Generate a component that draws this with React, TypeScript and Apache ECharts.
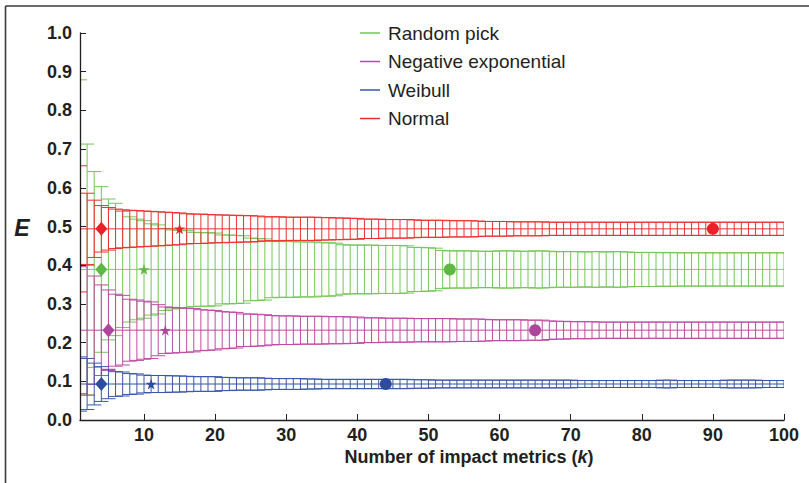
import React, { useEffect, useRef } from "react";
import * as echarts from "echarts";

const seriesNames = ["Random pick", "Negative exponential", "Weibull", "Normal"];
const lineColors = ["#74c655", "#bf4aa4", "#3a57ac", "#ee3030"];
const markColors = ["#5fb842", "#b0469b", "#2d4b9f", "#e82228"];
const means = [0.389, 0.232, 0.093, 0.494];

// half-width of each error bar, k = 1..100
const errRandom = [
  0.49, 0.324, 0.253, 0.214, 0.182, 0.171, 0.15, 0.136, 0.13, 0.126,
  0.118, 0.115, 0.106, 0.102, 0.101, 0.1, 0.096, 0.095, 0.095, 0.094,
  0.089, 0.089, 0.088, 0.087, 0.081, 0.08, 0.079, 0.073, 0.072, 0.072,
  0.072, 0.071, 0.071, 0.071, 0.069, 0.069, 0.068, 0.064, 0.063, 0.063,
  0.063, 0.063, 0.062, 0.062, 0.062, 0.062, 0.061, 0.057, 0.057, 0.056,
  0.055, 0.049, 0.048, 0.048, 0.048, 0.048, 0.047, 0.047, 0.047, 0.048,
  0.048, 0.048, 0.047, 0.047, 0.048, 0.048, 0.047, 0.046, 0.046, 0.046,
  0.046, 0.045, 0.046, 0.046, 0.045, 0.046, 0.046, 0.045, 0.044, 0.044,
  0.044, 0.044, 0.043, 0.044, 0.043, 0.043, 0.043, 0.043, 0.043, 0.043,
  0.043, 0.043, 0.043, 0.043, 0.043, 0.043, 0.043, 0.043, 0.043, 0.043,
];
const errNegExp = [
  0.164, 0.168, 0.14, 0.117, 0.104, 0.093, 0.09, 0.08, 0.078, 0.075,
  0.073, 0.066, 0.06, 0.059, 0.058, 0.057, 0.056, 0.053, 0.052, 0.051,
  0.048, 0.047, 0.046, 0.042, 0.042, 0.041, 0.04, 0.038, 0.037, 0.037,
  0.037, 0.036, 0.036, 0.036, 0.036, 0.035, 0.035, 0.035, 0.034, 0.034,
  0.032, 0.032, 0.032, 0.031, 0.031, 0.031, 0.031, 0.03, 0.03, 0.03,
  0.03, 0.03, 0.03, 0.029, 0.029, 0.029, 0.029, 0.028, 0.027, 0.027,
  0.027, 0.027, 0.027, 0.026, 0.026, 0.026, 0.024, 0.023, 0.023, 0.022,
  0.022, 0.022, 0.022, 0.021, 0.021, 0.021, 0.021, 0.021, 0.021, 0.021,
  0.021, 0.021, 0.021, 0.021, 0.021, 0.021, 0.021, 0.021, 0.021, 0.021,
  0.021, 0.021, 0.021, 0.021, 0.021, 0.021, 0.021, 0.021, 0.021, 0.021,
];
const errWeibull = [
  0.07, 0.066, 0.054, 0.045, 0.038, 0.032, 0.031, 0.027, 0.026, 0.023,
  0.022, 0.022, 0.022, 0.021, 0.021, 0.02, 0.019, 0.019, 0.019, 0.019,
  0.017, 0.017, 0.016, 0.016, 0.016, 0.016, 0.015, 0.014, 0.014, 0.014,
  0.014, 0.014, 0.013, 0.013, 0.012, 0.012, 0.012, 0.012, 0.012, 0.012,
  0.012, 0.012, 0.012, 0.012, 0.012, 0.012, 0.012, 0.011, 0.011, 0.011,
  0.01, 0.01, 0.01, 0.01, 0.01, 0.01, 0.01, 0.01, 0.01, 0.01,
  0.01, 0.01, 0.01, 0.01, 0.01, 0.01, 0.01, 0.01, 0.01, 0.01,
  0.009, 0.009, 0.009, 0.009, 0.009, 0.009, 0.009, 0.009, 0.009, 0.009,
  0.009, 0.009, 0.01, 0.01, 0.009, 0.009, 0.009, 0.009, 0.009, 0.009,
  0.009, 0.01, 0.01, 0.01, 0.01, 0.01, 0.009, 0.009, 0.009, 0.009,
];
const errNormal = [
  0.163, 0.092, 0.074, 0.06, 0.055, 0.051, 0.049, 0.048, 0.047, 0.046,
  0.045, 0.044, 0.043, 0.042, 0.041, 0.039, 0.038, 0.038, 0.037, 0.036,
  0.036, 0.035, 0.035, 0.034, 0.034, 0.033, 0.031, 0.031, 0.031, 0.03,
  0.03, 0.03, 0.03, 0.03, 0.029, 0.029, 0.028, 0.028, 0.027, 0.027,
  0.025, 0.025, 0.025, 0.024, 0.024, 0.024, 0.024, 0.023, 0.022, 0.022,
  0.022, 0.022, 0.021, 0.021, 0.021, 0.021, 0.02, 0.019, 0.019, 0.019,
  0.019, 0.018, 0.018, 0.018, 0.018, 0.018, 0.017, 0.017, 0.017, 0.017,
  0.017, 0.017, 0.017, 0.017, 0.017, 0.017, 0.017, 0.017, 0.017, 0.017,
  0.017, 0.017, 0.017, 0.017, 0.017, 0.017, 0.017, 0.017, 0.017, 0.017,
  0.017, 0.017, 0.017, 0.017, 0.017, 0.017, 0.017, 0.017, 0.017, 0.017,
];
const errs = [errRandom, errNegExp, errWeibull, errNormal];

// marker positions (k) per series
const diamondK = [4, 5, 4, 4];
const starK = [10, 13, 11, 15];
const circleK = [53, 65, 44, 90];

const xTicks = [10, 20, 30, 40, 50, 60, 70, 80, 90, 100];

const FONT = "'Liberation Sans', Arial, Helvetica, sans-serif";
const TEXT = "#231f20";
const STAR =
  "path://M12,0 L14.8,8.6 L23.8,8.6 L16.5,13.9 L19.3,22.5 L12,17.2 L4.7,22.5 L7.5,13.9 L0.2,8.6 L9.2,8.6 Z";

function makeRender(color: string) {
  return (params: any, api: any) => {
    const k = api.value(0);
    const m = api.value(1);
    const e = api.value(2);
    const c = api.coord([k, m]);
    const hi = api.coord([k, m + e]);
    const lo = api.coord([k, m - e]);
    const l = api.coord([k - 1, m])[0];
    const r = api.coord([k + 1, m])[0];
    const st = { stroke: color, lineWidth: 1, fill: null };
    return {
      type: "group",
      children: [
        { type: "line", shape: { x1: c[0], y1: hi[1], x2: c[0], y2: lo[1] }, style: st },
        { type: "line", shape: { x1: l, y1: hi[1], x2: r, y2: hi[1] }, style: st },
        { type: "line", shape: { x1: l, y1: lo[1], x2: r, y2: lo[1] }, style: st },
        { type: "line", shape: { x1: l, y1: c[1], x2: r, y2: c[1] }, style: { ...st, opacity: 0.6 } },
      ],
    };
  };
}

export default function App() {
  const ref = useRef<HTMLDivElement>(null);
  useEffect(() => {
    if (!ref.current) return;
    const chart = echarts.init(ref.current, undefined, { renderer: "svg" });
    const series: any[] = [];
    seriesNames.forEach((name, i) => {
      series.push({
        name,
        type: "custom",
        clip: true,
        z: 2 + i,
        itemStyle: { color: lineColors[i] },
        renderItem: makeRender(lineColors[i]),
        encode: { x: 0, y: 1 },
        data: errs[i].map((e, j) => [j + 1, means[i], e]),
      });
    });
    const marks: [number[], string, any][] = [
      [diamondK, "diamond", [12, 14]],
      [starK, STAR, 11],
      [circleK, "circle", 12],
    ];
    marks.forEach(([ks, sym, size], mi) => {
      seriesNames.forEach((name, i) => {
        series.push({
          name: name + " marker " + mi,
          type: "scatter",
          z: 10,
          symbol: sym,
          symbolSize: size,
          itemStyle: { color: markColors[i], opacity: 1 },
          data: [[ks[i], means[i]]],
        });
      });
    });
    chart.setOption({
      animation: false,
      backgroundColor: "#ffffff",
      textStyle: { fontFamily: FONT },
      grid: { left: 80, right: 25, top: 33, bottom: 63 },
      legend: {
        data: seriesNames,
        orient: "vertical",
        left: 360,
        top: 23,
        itemWidth: 20,
        itemHeight: 1.5,
        icon: "rect",
        itemGap: 8.5,
        padding: 0,
        selectedMode: false,
        textStyle: { fontSize: 19, color: TEXT, lineHeight: 20, padding: [0, 0, 0, 3], fontFamily: FONT },
      },
      xAxis: {
        type: "value",
        min: 1,
        max: 100,
        z: 20,
        splitLine: { show: false },
        axisLine: { lineStyle: { color: TEXT, width: 1.3 } },
        axisTick: { inside: true, length: 6, customValues: xTicks, lineStyle: { color: TEXT } },
        axisLabel: {
          customValues: xTicks,
          fontSize: 18,
          fontWeight: "bold",
          color: TEXT,
          margin: 6,
          fontFamily: FONT,
        },
      },
      yAxis: {
        type: "value",
        min: 0,
        max: 1,
        interval: 0.1,
        z: 20,
        splitLine: { show: false },
        axisLine: { show: true, lineStyle: { color: TEXT, width: 1.3 } },
        axisTick: { show: true, inside: true, length: 6, lineStyle: { color: TEXT } },
        axisLabel: {
          fontSize: 18,
          fontWeight: "bold",
          color: TEXT,
          margin: 8,
          fontFamily: FONT,
          formatter: (v: number) => v.toFixed(1),
        },
      },
      graphic: [
        {
          type: "line",
          shape: { x1: 5.5, y1: 6, x2: 809, y2: 6 },
          style: { stroke: "#3a3a3a", lineWidth: 1.6 },
        },
        {
          type: "line",
          shape: { x1: 5.5, y1: 6, x2: 5.5, y2: 483 },
          style: { stroke: "#3a3a3a", lineWidth: 1.6 },
        },
        {
          type: "text",
          x: 22,
          y: 228,
          style: {
            text: "E",
            font: "italic bold 23px " + FONT,
            fill: TEXT,
            align: "center",
            verticalAlign: "middle",
          },
        },
        {
          type: "text",
          x: 469,
          y: 457,
          style: {
            text: "{a|Number of impact metrics (}{b|k}{a|)}",
            align: "center",
            verticalAlign: "middle",
            rich: {
              a: { fontSize: 18, fontWeight: "bold", fontFamily: FONT, fill: TEXT, color: TEXT },
              b: { fontSize: 18, fontWeight: "bold", fontStyle: "italic", fontFamily: FONT, fill: TEXT, color: TEXT },
            },
          },
        },
      ],
      series,
    });
    return () => chart.dispose();
  }, []);
  return (
    <div
      ref={ref}
      style={{ position: "fixed", left: 0, top: 0, width: 809, height: 483, background: "#fff" }}
    />
  );
}
